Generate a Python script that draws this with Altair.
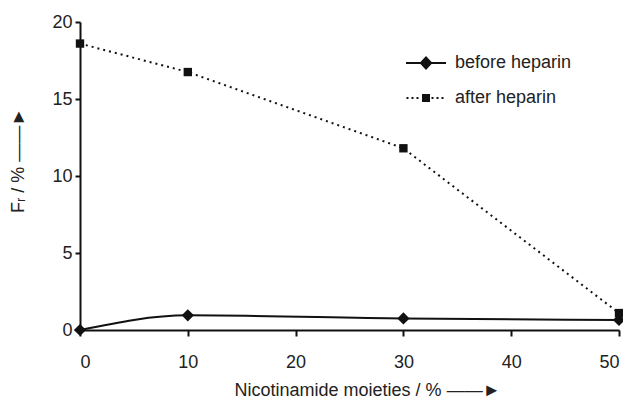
import altair as alt
import pandas as pd

x_vals = [0, 10, 30, 50]
before = [0.0, 0.95, 0.75, 0.65]
after = [18.6, 16.75, 11.8, 1.1]
series_names = ["before heparin", "after heparin"]

df = pd.DataFrame(
    {
        "x": x_vals * 2,
        "y": before + after,
        "series": [series_names[0]] * 4 + [series_names[1]] * 4,
    }
)

FONT = "Liberation Sans"
INK = "#111111"
ARROW = "  \u2014\u2014\u25ba"

xenc = alt.X(
    "x:Q",
    scale=alt.Scale(domain=[0, 50], nice=False),
    axis=alt.Axis(
        values=[0, 10, 20, 30, 40, 50],
        title="Nicotinamide moieties / %" + ARROW,
        titleX=287,
        titleY=60,
        titleAlign="center",
        titleBaseline="middle",
        titleFontSize=18,
        titleFontWeight="normal",
        tickSize=6,
        labelPadding=17,
        grid=False,
    ),
)
yenc = alt.Y(
    "y:Q",
    scale=alt.Scale(domain=[0, 20], nice=False),
    axis=alt.Axis(
        values=[0, 5, 10, 15, 20],
        title="F\u1d63 / %" + ARROW,
        titleX=-62,
        titleY=138,
        titleAngle=270,
        titleAlign="center",
        titleBaseline="middle",
        titleFontSize=18,
        titleFontWeight="normal",
        tickSize=5,
        labelPadding=3,
        grid=False,
    ),
)

base = alt.Chart(df).encode(x=xenc, y=yenc)

line_before = base.transform_filter(alt.datum.series == series_names[0]).mark_line(
    color=INK, strokeWidth=2, interpolate="monotone"
)
line_after = base.transform_filter(alt.datum.series == series_names[1]).mark_line(
    color=INK, strokeWidth=2, strokeDash=[2, 4]
)
pts_before = base.transform_filter(alt.datum.series == series_names[0]).mark_point(
    shape="diamond", filled=True, color=INK, size=150, opacity=1
)
pts_after = base.transform_filter(alt.datum.series == series_names[1]).mark_point(
    shape="square", filled=True, color=INK, size=70, opacity=1
)

# legend glyphs: line + marker drawn as filled outlines
path_before = "M-4,-0.2H4V0.2H-4Z M-1.3,0L0,-1.4L1.3,0L0,1.4Z"
path_after = (
    "M-3.9,-0.2h0.4v0.4h-0.4Z M-2.9,-0.2h0.4v0.4h-0.4Z M-1.9,-0.2h0.4v0.4h-0.4Z "
    "M1.1,-0.2h0.4v0.4h-0.4Z M2.1,-0.2h0.4v0.4h-0.4Z M3.1,-0.2h0.4v0.4h-0.4Z "
    "M-0.8,-0.8h1.6v1.6h-1.6Z"
)

legend_layer = base.transform_filter("false").mark_point(
    filled=True, color=INK, size=100, opacity=1
).encode(
    shape=alt.Shape(
        "series:N",
        scale=alt.Scale(domain=series_names, range=[path_before, path_after]),
        legend=alt.Legend(
            title=None,
            orient="none",
            legendX=337,
            legendY=32,
            padding=0,
            labelOffset=20,
            labelFontSize=18,
            labelFont=FONT,
            labelColor="#222222",
            rowPadding=16,
            symbolSize=100,
            symbolFillColor=INK,
            symbolOpacity=1,
        ),
    )
)

chart = (
    alt.layer(line_before, line_after, pts_before, pts_after, legend_layer)
    .properties(
        width=539,
        height=308,
        autosize=alt.AutoSizeParams(type="none"),
        padding={"left": 72, "top": 14, "right": 4, "bottom": 69},
    )
    .configure_view(stroke=None)
    .configure_axis(
        domainColor=INK,
        domainWidth=2,
        tickColor=INK,
        tickWidth=2,
        labelFont=FONT,
        labelFontSize=18,
        labelColor="#222222",
        titleFont=FONT,
        titleColor="#222222",
    )
)

chart.save("out.html", embed_options={"renderer": "svg", "actions": False})
